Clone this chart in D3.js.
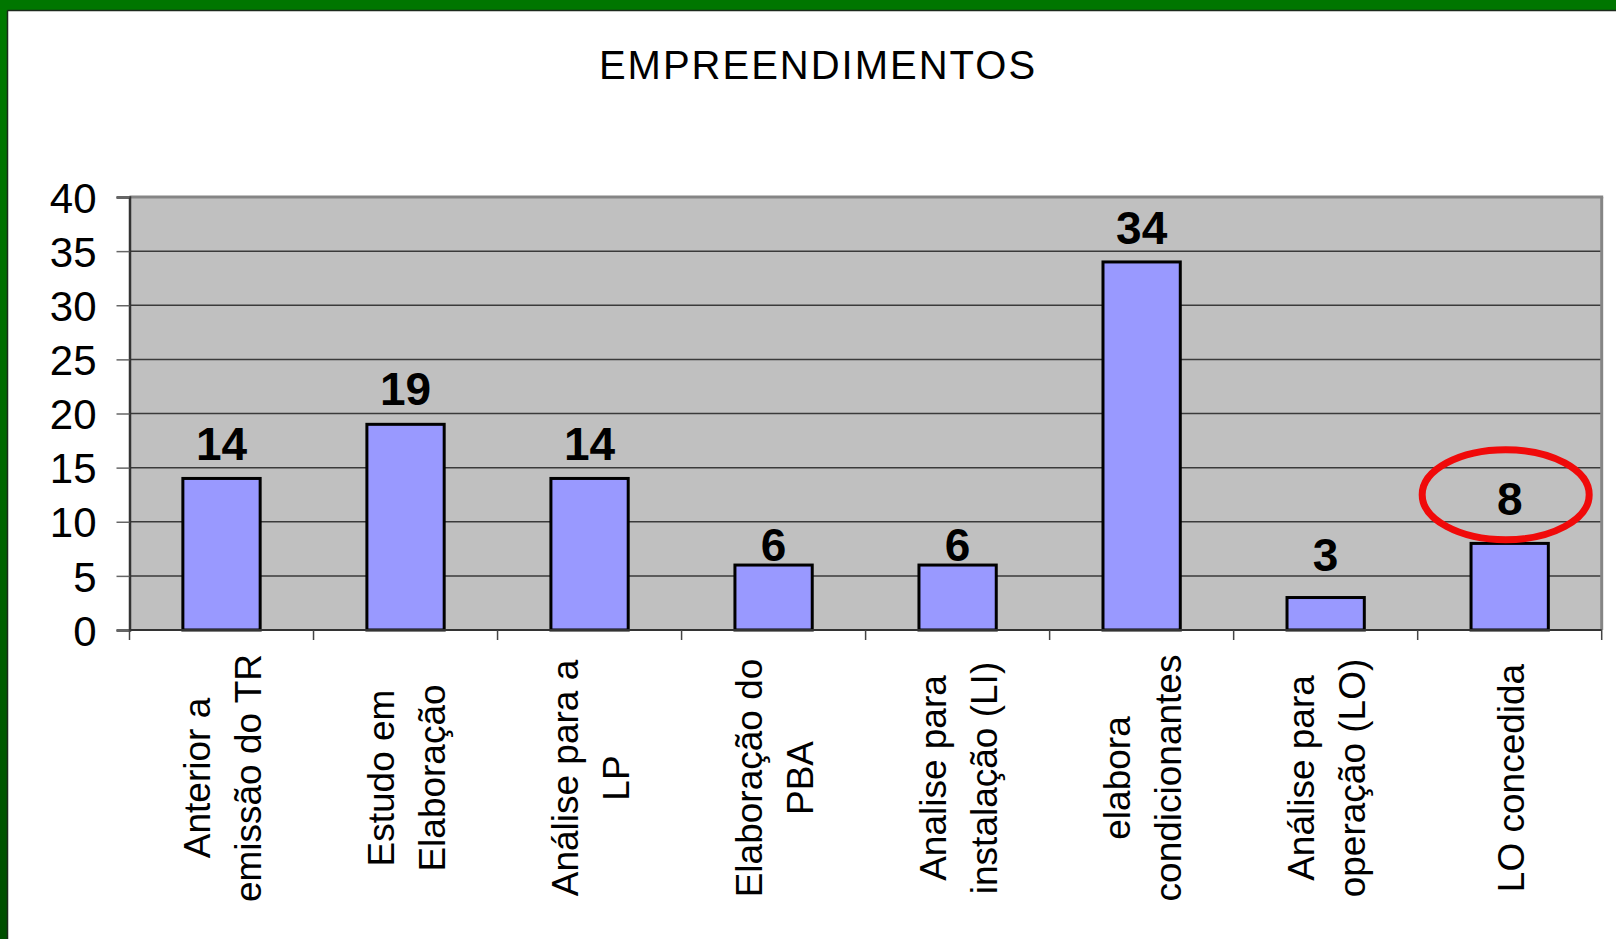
<!DOCTYPE html>
<html>
<head>
<meta charset="utf-8">
<script src="https://cdn.jsdelivr.net/npm/d3@7/dist/d3.min.js"></script>
<style>
  html, body { margin: 0; padding: 0; background: #fff; }
  svg { display: block; font-family: Arial, "Liberation Sans", sans-serif; }
</style>
</head>
<body>
<svg id="chart" width="1616" height="939"></svg>
<script>
// ---- data ----
const title = "EMPREENDIMENTOS";
const categories = [
  ["Anterior a", "emissão do TR"],
  ["Estudo em", "Elaboração"],
  ["Análise para a", "LP"],
  ["Elaboração do", "PBA"],
  ["Analise para", "instalação (LI)"],
  ["elabora", "condicionantes"],
  ["Análise para", "operação (LO)"],
  ["LO concedida"]
];
const values = [14, 19, 14, 6, 6, 34, 3, 8];
const yTicks = [0, 5, 10, 15, 20, 25, 30, 35, 40];
const highlightIndex = 7;

// ---- layout (not data) ----
const W = 1616, H = 939;
const plot = { left: 129.5, right: 1601.7, top: 197, bottom: 630 };
const labelGap = [18, 19, 18, 4, 4, 18, 27, 28];

const svg = d3.select("#chart");

// background frame
const defs = svg.append("defs");
const gLeft = defs.append("linearGradient").attr("id", "gl").attr("x1", 0).attr("y1", 0).attr("x2", 0).attr("y2", 1);
gLeft.append("stop").attr("offset", "0%").attr("stop-color", "#007a00");
gLeft.append("stop").attr("offset", "45%").attr("stop-color", "#006a00");
gLeft.append("stop").attr("offset", "100%").attr("stop-color", "#004e00");
svg.append("rect").attr("x", 0).attr("y", 0).attr("width", W).attr("height", H).attr("fill", "#fff");
svg.append("rect").attr("x", 0).attr("y", 0).attr("width", 8).attr("height", H).attr("fill", "url(#gl)");
svg.append("rect").attr("x", 0).attr("y", 0).attr("width", W).attr("height", 10).attr("fill", "#007600");
svg.append("line").attr("x1", 7.5).attr("y1", 10.5).attr("x2", W).attr("y2", 10.5).attr("stroke", "#1c2a1c").attr("stroke-width", 1.5);
svg.append("line").attr("x1", 7.5).attr("y1", 10.5).attr("x2", 7.5).attr("y2", H).attr("stroke", "#1c2a1c").attr("stroke-width", 1.5);

// title
svg.append("text")
  .attr("x", 818).attr("y", 79)
  .attr("text-anchor", "middle")
  .attr("font-size", 40)
  .attr("letter-spacing", "2px")
  .attr("fill", "#000")
  .text(title);

// scales
const x = d3.scaleBand().domain(d3.range(categories.length))
  .range([plot.left, plot.right]).paddingInner(0.58).paddingOuter(0.29);
const y = d3.scaleLinear().domain([0, 40]).range([plot.bottom, plot.top]);
const bandStep = x.step();

// plot area
svg.append("rect")
  .attr("x", plot.left).attr("y", plot.top)
  .attr("width", plot.right - plot.left).attr("height", plot.bottom - plot.top)
  .attr("fill", "#c0c0c0");

// gridlines
svg.append("g").selectAll("line").data(yTicks.filter(t => t > 0 && t < 40)).join("line")
  .attr("x1", plot.left).attr("x2", plot.right)
  .attr("y1", d => y(d)).attr("y2", d => y(d))
  .attr("stroke", "#3a3a3a").attr("stroke-width", 1.5);

// plot border (top/right gray)
svg.append("line").attr("x1", plot.left).attr("x2", plot.right + 1.5)
  .attr("y1", plot.top).attr("y2", plot.top).attr("stroke", "#858585").attr("stroke-width", 3);
svg.append("line").attr("x1", plot.right).attr("x2", plot.right)
  .attr("y1", plot.top).attr("y2", plot.bottom).attr("stroke", "#858585").attr("stroke-width", 3);

// y axis
const yAxis = d3.axisLeft(y).tickValues(yTicks).tickSize(13).tickPadding(20).tickFormat(d3.format("d"));
const gy = svg.append("g").attr("transform", `translate(${plot.left},0)`).call(yAxis);
gy.select(".domain").attr("stroke", "#333").attr("stroke-width", 2.5);
gy.selectAll(".tick line").attr("stroke", "#666").attr("stroke-width", 1.5);
gy.selectAll(".tick text").attr("font-size", 42).attr("fill", "#000")
  .attr("font-family", "Arial, 'Liberation Sans', sans-serif").attr("dy", "0.36em");

// bars
svg.append("g").selectAll("rect").data(values).join("rect")
  .attr("x", (d, i) => x(i))
  .attr("y", d => y(d))
  .attr("width", x.bandwidth())
  .attr("height", d => y(0) - y(d))
  .attr("fill", "#9999ff")
  .attr("stroke", "#000").attr("stroke-width", 3);

// x axis line and ticks at band boundaries
const boundaries = d3.range(categories.length + 1).map(i => plot.left + i * bandStep);
svg.append("line").attr("x1", plot.left).attr("x2", plot.right)
  .attr("y1", plot.bottom).attr("y2", plot.bottom).attr("stroke", "#333").attr("stroke-width", 2);
svg.append("g").selectAll("line").data(boundaries).join("line")
  .attr("x1", d => d).attr("x2", d => d)
  .attr("y1", plot.bottom).attr("y2", plot.bottom + 10)
  .attr("stroke", "#444").attr("stroke-width", 1.5);

// value labels
svg.append("g").selectAll("text").data(values).join("text")
  .attr("x", (d, i) => x(i) + x.bandwidth() / 2)
  .attr("y", (d, i) => y(d) - labelGap[i])
  .attr("text-anchor", "middle")
  .attr("font-size", 46).attr("font-weight", "bold").attr("fill", "#000")
  .text(d => d);

// category labels (rotated)
const lineH = 51;
const catG = svg.append("g");
categories.forEach((lines, i) => {
  const cx = x(i) + x.bandwidth() / 2 + 1;
  const t = catG.append("text")
    .attr("transform", `translate(${cx},778) rotate(-90)`)
    .attr("text-anchor", "middle")
    .attr("font-size", 37).attr("fill", "#000");
  lines.forEach((ln, j) => {
    const off = (j - (lines.length - 1) / 2) * lineH;
    t.append("tspan").attr("x", 0).attr("y", off).attr("dy", "0.36em").text(ln);
  });
});

// highlight ellipse
const hi = highlightIndex;
svg.append("ellipse")
  .attr("cx", x(hi) + x.bandwidth() / 2 - 4)
  .attr("cy", y(values[hi] + 4.5))
  .attr("rx", 83.5).attr("ry", 45)
  .attr("fill", "none").attr("stroke", "#f00a0a").attr("stroke-width", 7);
</script>
</body>
</html>
